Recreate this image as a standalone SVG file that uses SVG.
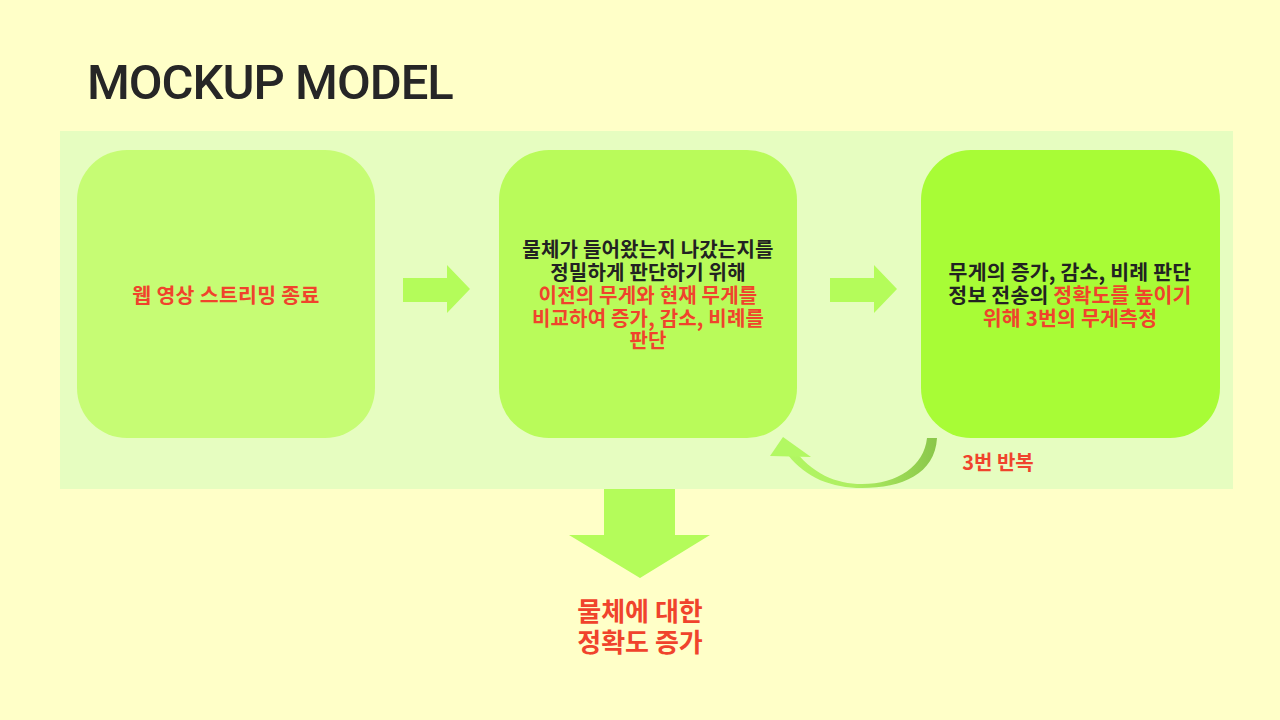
<svg xmlns="http://www.w3.org/2000/svg" width="1280" height="720" viewBox="0 0 1280 720">
<defs>
<style>
.t{font-family:"Noto Sans CJK KR","Noto Sans",sans-serif;font-weight:700;text-anchor:middle}
.blk{fill:#222222}
.red{fill:#F0432C}
.arr{fill:#B4FC5A}
</style>
<linearGradient id="cg" gradientUnits="userSpaceOnUse" x1="772" y1="0" x2="937" y2="0">
<stop offset="0" stop-color="#B2F862"/>
<stop offset="0.5" stop-color="#AEEE62"/>
<stop offset="1" stop-color="#8AC64A"/>
</linearGradient>
</defs>
<rect x="0" y="0" width="1280" height="720" fill="#FFFFC8"/>
<text x="87" y="99" font-family="Roboto,'Liberation Sans',sans-serif" font-weight="500" font-size="49" fill="#262626" letter-spacing="-1">MOCKUP MODEL</text>
<rect x="60" y="131" width="1173" height="358" fill="#E6FDC0"/>
<g id="node1">
<rect x="77" y="150" width="298" height="288" rx="50" fill="#C6FC74"/>
<text class="t red" x="226" y="303" font-size="20.5" letter-spacing="0.3">웹 영상 스트리밍 종료</text>
</g>
<g id="node2">
<rect x="499" y="150" width="298" height="288" rx="50" fill="#B9FB5A"/>
<text class="t" font-size="20" letter-spacing="0.2"><tspan class="blk" x="648" y="257">물체가 들어왔는지 나갔는지를</tspan><tspan class="blk" x="648" y="280">정밀하게 판단하기 위해</tspan><tspan class="red" x="648" y="303">이전의 무게와 현재 무게를</tspan><tspan class="red" x="648" y="326">비교하여 증가, 감소, 비례를</tspan><tspan class="red" x="648" y="348">판단</tspan></text>
</g>
<g id="node3">
<rect x="921" y="150" width="299" height="288" rx="50" fill="#A8FC36"/>
<text class="t" font-size="20.5" letter-spacing="0.2"><tspan class="blk" x="1070" y="280">무게의 증가, 감소, 비례 판단</tspan><tspan x="1070" y="303"><tspan class="blk">정보 전송의 </tspan><tspan class="red">정확도를 높이기</tspan></tspan><tspan class="red" x="1070" y="326">위해 3번의 무게측정</tspan></text>
</g>
<g id="connectors">
<polygon class="arr" points="403,278 447,278 447,265 470,289 447,313 447,302 403,302"/>
<polygon class="arr" points="830,278 874,278 874,265 897,289 874,313 874,302 830,302"/>
<polygon class="arr" points="604,489 675,489 675,535 710,535 640,578 569,535 604,535"/>
<path d="M792,447 C812,474 836,484 862,484 C898,484 924,466 927,438 L937,438 C935,474 902,488 862,488 C832,488 806,478 788,455 Z" fill="url(#cg)"/>
<polygon points="770,456 783,437 811,457" fill="#B2F862"/>
</g>
<text class="t red" x="998" y="470" font-size="20">3번 반복</text>
<g id="result">
<text class="t red" font-size="26"><tspan x="640" y="621">물체에 대한</tspan><tspan x="640" y="652">정확도 증가</tspan></text>
</g>
</svg>
